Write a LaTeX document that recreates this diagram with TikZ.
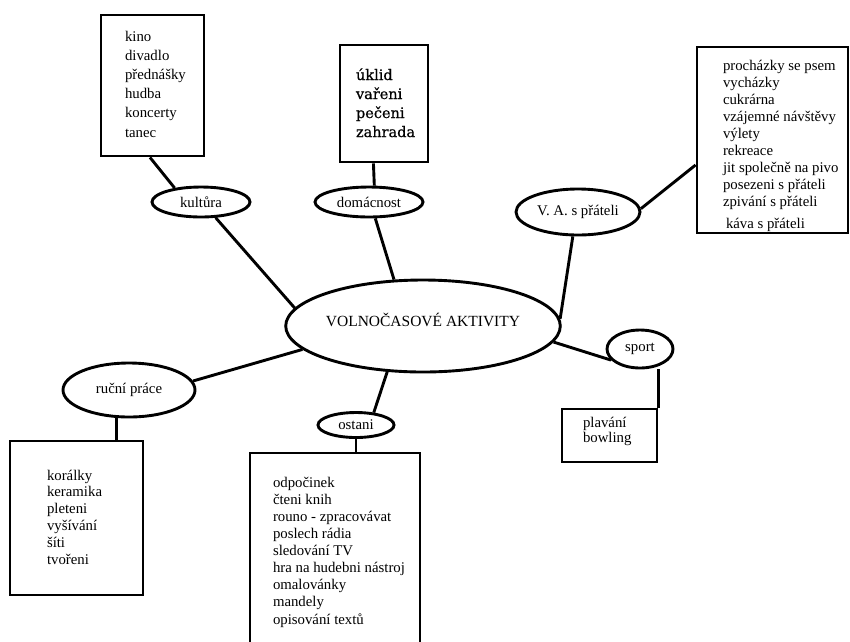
\documentclass[tikz,border=0pt]{standalone}
\usepackage{fontspec}
\setmainfont{Liberation Serif}
\newfontfamily\homefont[FakeBold=0.6]{DejaVu Serif}
\usetikzlibrary{shapes.geometric}

\begin{document}
\begin{tikzpicture}[x=1pt,y=-1pt,
  line width=2.9pt,
  bubble/.style={ellipse, draw, inner sep=0pt, font=\fontsize{14.8}{17}\selectfont},
  listbox/.style={draw, rectangle, inner sep=0pt},
  items/.style={anchor=base west, align=left, inner sep=0pt, line width=0pt},
  link/.style={draw, line width=2.9pt}]

\clip (0,0) rectangle (850,641);
\fill[white] (0,0) rectangle (850,641);

% central topic
\node[bubble, minimum width=246, minimum height=92, text depth=12pt,
      font=\fontsize{15.5}{18}\selectfont] (hub) at (423,326) {VOLNOČASOVÉ AKTIVITY};

% categories
\node[bubble, minimum width=98,  minimum height=30] (kult)  at (201,202) {kultůra};
\node[bubble, minimum width=108, minimum height=30] (dom)   at (369,202) {domácnost};
\node[bubble, minimum width=124, minimum height=46] (va)    at (578,212) {V. A. s přáteli};
\node[bubble, minimum width=66,  minimum height=38] (sport) at (640,349) {sport};
\node[bubble, minimum width=132, minimum height=54] (rucni) at (129,390) {ruční práce};
\node[bubble, minimum width=76,  minimum height=25] (ost)   at (356,425) {ostani};

% boxes with the activities
\node[listbox, minimum width=103, minimum height=141] (kbox) at (152.5,85.5) {};
\node[listbox, minimum width=88,  minimum height=117] (dbox) at (384,103.5) {};
\node[listbox, minimum width=151, minimum height=186] (vbox) at (772.5,140) {};
\node[listbox, minimum width=95,  minimum height=53]  (sbox) at (609.5,435.5) {};
\node[listbox, minimum width=133, minimum height=154] (rbox) at (76.5,518) {};
\node[listbox, minimum width=170, minimum height=207] (obox) at (335,556.5) {};

% activity lists (anchored at the baseline of their last line)
\node[items, font=\fontsize{14.8}{19.2}\selectfont] (klist) at (125,137)
  {kino\\divadlo\\přednášky\\hudba\\koncerty\\tanec};
\node[items, font=\homefont\fontsize{14.5}{19}\selectfont] (dlist) at (356,137)
  {úklid\\vařeni\\pečeni\\zahrada};
\node[items, font=\fontsize{14.8}{17.1}\selectfont] (vlist) at (723,228)
  {procházky se psem\\vycházky\\cukrárna\\vzájemné návštěvy\\výlety\\rekreace\\jit společně na pivo\\posezeni s přáteli\\zpivání s přáteli\\[4pt]\hspace*{3pt}káva s přáteli};
\node[items, font=\fontsize{14.8}{15}\selectfont] (slist) at (583,442)
  {plavání\\bowling};
\node[items, font=\fontsize{14.8}{16.8}\selectfont] (rlist) at (47,564)
  {korálky\\keramika\\pleteni\\vyšívání\\šíti\\tvořeni};
\node[items, font=\fontsize{14.8}{17.1}\selectfont] (olist) at (273,624)
  {odpočinek\\čteni knih\\rouno - zpracovávat\\poslech rádia\\sledování TV\\hra na hudebni nástroj\\omalovánky\\mandely\\opisování textů};

% connectors
\path[link] (kbox.268) -- (kult.152);
\path[link] (kult.313) -- (hub.172);
\path[link] (dbox.260) -- (dom.72);
\path[link] (dom.291) -- (hub.122);
\path[link] (va.3) -- (vbox.198);
\path[link] (va.258) -- (hub.3);
\path[link] (hub.353) -- (sport.201);
\path[link] (sport.south -| sbox.north east) -- (sbox.north east);
\path[link] (hub.191) -- (rucni.8);
\path[link] (rucni.246) -- (rucni.246 |- rbox.north);
\path[link] (hub.232) -- (ost.35);
\path[link] (ost.south) -- (ost.south |- obox.north);

\end{tikzpicture}
\end{document}
